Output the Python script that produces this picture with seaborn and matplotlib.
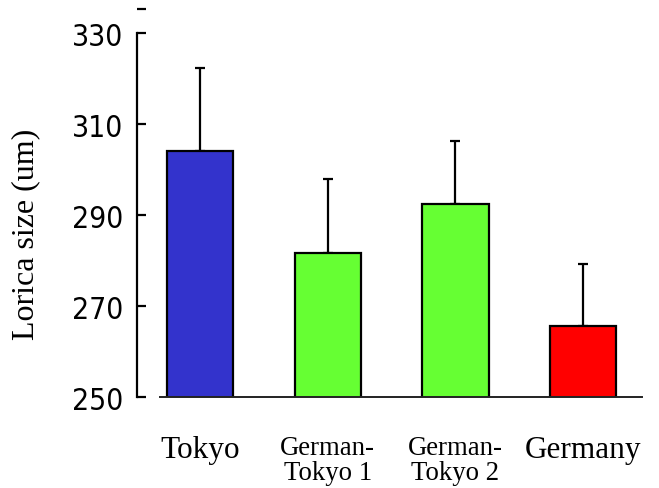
""" Lorica size bar chart with upper error bars """

import matplotlib
matplotlib.use('Agg')
import matplotlib.pyplot as plt
import numpy as np
import pandas as pd
import seaborn as sns

sns.set_theme(style='white')

# data
strains = ['Tokyo', 'German-\nTokyo 1', 'German-\nTokyo 2', 'Germany']
lorica_mean = [304.1, 281.6, 292.4, 265.7]
lorica_sd = [18.2, 16.3, 13.9, 13.5]
bar_colors = ['#3333CC', '#66FF33', '#66FF33', '#FF0000']
yticks = [250, 270, 290, 310, 330]

df = pd.DataFrame({'strain': strains, 'size': lorica_mean})

fig = plt.figure(figsize=(6.59, 4.89), dpi=100)
ax = fig.add_axes([0.208, 0.186, 0.771, 0.814])

sns.barplot(data=df, x='strain', y='size', hue='strain', palette=bar_colors,
            saturation=1, width=0.52, edgecolor='black', linewidth=1.6,
            legend=False, ax=ax, zorder=2)

xpos = np.arange(len(strains))
ax.errorbar(xpos, lorica_mean, yerr=[np.zeros(len(strains)), lorica_sd],
            fmt='none', ecolor='black', elinewidth=1.6, capsize=3.5,
            capthick=1.6, zorder=1)

ax.set_ylim(250, 337.5)
ax.set_xlim(-0.493, 3.485)
ax.set_yticks(yticks)
ax.set_yticks([335.3], minor=True)

for s in ['top', 'right']:
    ax.spines[s].set_visible(False)
ax.spines['left'].set_bounds(250, 330)
ax.spines['left'].set_linewidth(1.6)
ax.spines['left'].set_color('black')
ax.spines['bottom'].set_bounds(-0.31, 3.46)
ax.spines['bottom'].set_linewidth(1.4)
ax.spines['bottom'].set_color('#222222')

ax.tick_params(axis='y', which='both', direction='in', length=6.5, width=1.6,
               color='black', left=True, pad=10)
ax.tick_params(axis='x', length=0, pad=27)

for lab in ax.get_yticklabels():
    lab.set_family(['DejaVu Sans'])
    lab.set_stretch('condensed')
    lab.set_fontsize(21.5)
    lab.set_color('black')

for lab in ax.get_xticklabels():
    lab.set_family(['Liberation Serif', 'DejaVu Serif'])
    lab.set_color('black')
    lab.set_linespacing(1.0)
    if '\n' in lab.get_text():
        lab.set_fontsize(19.3)
    else:
        lab.set_fontsize(22.5)

ax.set_xlabel('')
ax.set_ylabel('Lorica size (um)', family=['Liberation Serif', 'DejaVu Serif'],
              fontsize=23, color='black')
ax.yaxis.set_label_coords(-0.19, 0.41)

fig.savefig('out.png', dpi=100)
